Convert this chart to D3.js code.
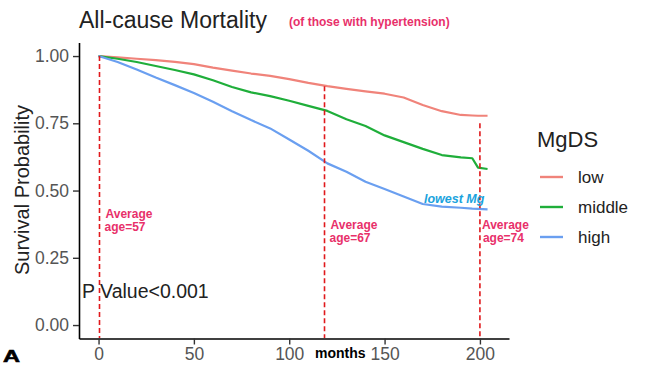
<!DOCTYPE html>
<html>
<head>
<meta charset="utf-8">
<script src="https://cdn.jsdelivr.net/npm/d3@7"></script>
<style>
  body { margin: 0; background: #fff; }
  svg { font-family: Arial, "Liberation Sans", sans-serif; }
</style>
</head>
<body>
<div id="chart"></div>
<script>
// survival data
var months = [0, 10, 20, 30, 40, 50, 60, 70, 80, 90, 100, 110, 120, 130, 140, 150, 160, 170, 180, 190, 196, 199, 204];
var lowVals = [1, 0.995, 0.99, 0.985, 0.978, 0.97, 0.957, 0.946, 0.935, 0.926, 0.914, 0.9, 0.888, 0.878, 0.869, 0.86, 0.846, 0.818, 0.795, 0.781, 0.779, 0.778, 0.778];
var middleVals = [1, 0.99, 0.978, 0.963, 0.948, 0.932, 0.91, 0.885, 0.865, 0.851, 0.834, 0.815, 0.796, 0.765, 0.74, 0.705, 0.68, 0.655, 0.632, 0.623, 0.62, 0.585, 0.58];
var highVals = [1, 0.978, 0.95, 0.92, 0.892, 0.863, 0.83, 0.795, 0.762, 0.731, 0.69, 0.648, 0.601, 0.57, 0.533, 0.506, 0.478, 0.45, 0.44, 0.436, 0.433, 0.432, 0.43];

var groups = ['low', 'middle', 'high'];
var groupColors = ['#f0837a', '#1fae3a', '#6a9ff0'];

var xTicks = [0, 50, 100, 150, 200];
var yTicks = [0, 0.25, 0.5, 0.75, 1];

// dashed "average age" markers
var markMonths = [0.5, 118.5, 200];
var markTops = [1.0, 0.888, 0.75];
var markLabels = ['age=57', 'age=67', 'age=74'];

var width = 648, height = 366;

var svg = d3.select('#chart').append('svg')
  .attr('width', width)
  .attr('height', height);

var x = d3.scaleLinear().domain([-10.25, 215.25]).range([79, 509]);
var y = d3.scaleLinear().domain([-0.05, 1.05]).range([338.5, 42.6]);

// axes
var xAxis = svg.append('g')
  .attr('transform', 'translate(0,338.5)')
  .call(d3.axisBottom(x).tickValues(xTicks).tickFormat(d3.format('d')).tickSize(6).tickPadding(3).tickSizeOuter(0));

var yAxis = svg.append('g')
  .attr('transform', 'translate(79,0)')
  .call(d3.axisLeft(y).tickValues(yTicks).tickFormat(d3.format('.2f')).tickSize(6).tickPadding(4).tickSizeOuter(0));

[xAxis, yAxis].forEach(function(ax){
  ax.select('.domain').attr('stroke', '#000').attr('stroke-width', 1.6);
  ax.selectAll('.tick line').attr('stroke', '#333').attr('stroke-width', 1.4);
  ax.selectAll('.tick text')
    .attr('fill', '#555')
    .style('font-size', '17.5px')
    .style('font-family', 'Arial, "Liberation Sans", sans-serif');
});

// curves
var seriesVals = [lowVals, middleVals, highVals];
var line = d3.line()
  .x(function(d){ return x(d[0]); })
  .y(function(d){ return y(d[1]); });

seriesVals.forEach(function(vals, i){
  var pts = months.map(function(m, j){ return [m, vals[j]]; });
  svg.append('path')
    .datum(pts)
    .attr('fill', 'none')
    .attr('stroke', groupColors[i])
    .attr('stroke-width', 2.2)
    .attr('stroke-linejoin', 'round')
    .attr('d', line);
});

// dashed markers
markMonths.forEach(function(m, i){
  svg.append('line')
    .attr('x1', x(m)).attr('x2', x(m))
    .attr('y1', y(markTops[i])).attr('y2', 338)
    .attr('stroke', '#e0191c')
    .attr('stroke-width', 1.6)
    .attr('stroke-dasharray', '5,3');
});

var labelDy = [0, 11, 11];
markMonths.forEach(function(m, i){
  var t = svg.append('text')
    .attr('y', 218 + labelDy[i])
    .attr('fill', '#e8306a')
    .style('font-size', '12px')
    .style('font-weight', 'bold');
  t.append('tspan').attr('x', x(m) + (i == 2 ? 2 : 6)).text('Average');
  t.append('tspan').attr('x', x(m) + (i == 2 ? 3 : 5)).attr('dy', 13).text(markLabels[i]);
});

svg.append('text')
  .attr('x', 424).attr('y', 203)
  .attr('fill', '#1aa3dd')
  .style('font-size', '12.5px')
  .style('font-weight', 'bold')
  .style('font-style', 'italic')
  .text('lowest Mg');

// titles
svg.append('text')
  .attr('x', 79).attr('y', 28)
  .attr('fill', '#222')
  .style('font-size', '23px')
  .text('All-cause Mortality');

svg.append('text')
  .attr('x', 289).attr('y', 26)
  .attr('fill', '#e8306a')
  .style('font-size', '12px')
  .style('font-weight', 'bold')
  .text('(of those with hypertension)');

svg.append('text')
  .attr('transform', 'translate(29,190) rotate(-90)')
  .attr('text-anchor', 'middle')
  .attr('fill', '#222')
  .style('font-size', '20px')
  .text('Survival Probability');

svg.append('text')
  .attr('x', 82).attr('y', 298)
  .attr('fill', '#222')
  .style('font-size', '19.5px')
  .text('P Value<0.001');

svg.append('text')
  .attr('x', 315).attr('y', 358)
  .attr('fill', '#000')
  .style('font-size', '14px')
  .style('font-weight', 'bold')
  .text('months');

svg.append('text')
  .attr('x', 3).attr('y', 362)
  .attr('fill', '#000')
  .attr('stroke', '#000')
  .attr('stroke-width', 0.6)
  .attr('textLength', 17)
  .attr('lengthAdjust', 'spacingAndGlyphs')
  .style('font-size', '17px')
  .style('font-weight', 'bold')
  .text('A');

// legend
svg.append('text')
  .attr('x', 537).attr('y', 147)
  .attr('fill', '#222')
  .style('font-size', '22px')
  .text('MgDS');

var legend = svg.selectAll('.leg')
  .data(groups)
  .enter().append('g')
  .attr('class', 'leg')
  .attr('transform', function(d, i){ return 'translate(0,' + (177 + i * 30) + ')'; });

legend.append('line')
  .attr('x1', 540).attr('x2', 563)
  .attr('stroke', function(d, i){ return groupColors[i]; })
  .attr('stroke-width', 2.4);

legend.append('text')
  .attr('x', 578).attr('y', 6)
  .attr('fill', '#222')
  .style('font-size', '17px')
  .text(function(d){ return d; });
</script>
</body>
</html>
